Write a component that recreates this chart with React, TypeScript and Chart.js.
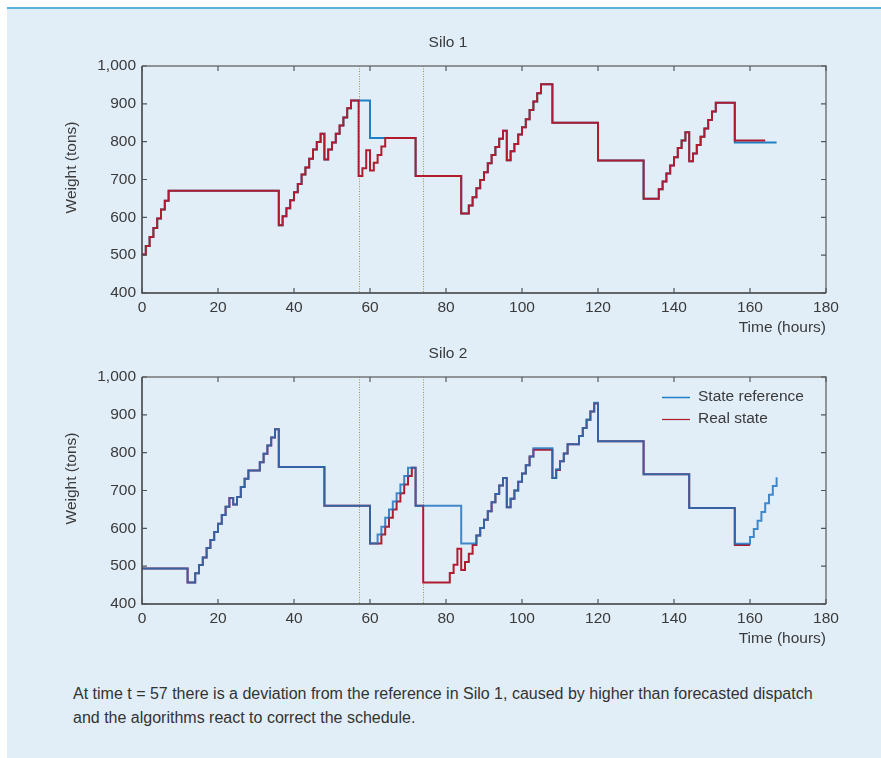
import React, { useEffect, useRef } from "react";
import { Chart, registerables } from "chart.js";

Chart.register(...registerables);

// ---------- data ----------
const silo1RefT = [0, 1, 2, 3, 4, 5, 6, 7, 36, 37, 38, 39, 40, 41, 42, 43, 44, 45, 46, 47, 48, 49, 50, 51, 52, 53, 54, 55, 60, 72, 84, 86, 87, 88, 89, 90, 91, 92, 93, 94, 95, 96, 97, 98, 99, 100, 101, 102, 103, 104, 105, 108, 120, 132, 136, 137, 138, 139, 140, 141, 142, 143, 144, 145, 146, 147, 148, 149, 150, 151, 156, 167];
const silo1RefW = [502, 524, 548, 572, 597, 621, 644, 670, 579, 603, 624, 645, 666, 688, 713, 732, 755, 779, 799, 821, 753, 779, 798, 821, 843, 864, 888, 909, 810, 709, 610, 631, 653, 677, 699, 719, 743, 765, 786, 808, 829, 751, 775, 794, 819, 838, 859, 884, 906, 928, 952, 850, 750, 649, 674, 695, 716, 737, 759, 783, 803, 825, 748, 769, 791, 813, 835, 857, 880, 903, 798, 798];

const silo1RealT = [0, 1, 2, 3, 4, 5, 6, 7, 36, 37, 38, 39, 40, 41, 42, 43, 44, 45, 46, 47, 48, 49, 50, 51, 52, 53, 54, 55, 57, 58, 59, 60, 61, 62, 63, 64, 72, 84, 86, 87, 88, 89, 90, 91, 92, 93, 94, 95, 96, 97, 98, 99, 100, 101, 102, 103, 104, 105, 108, 120, 132, 136, 137, 138, 139, 140, 141, 142, 143, 144, 145, 146, 147, 148, 149, 150, 151, 156, 164];
const silo1RealW = [502, 524, 548, 572, 597, 621, 644, 670, 579, 603, 624, 645, 666, 688, 713, 732, 755, 779, 799, 821, 753, 779, 798, 821, 843, 864, 888, 909, 709, 730, 777, 724, 744, 765, 787, 810, 709, 610, 631, 653, 677, 699, 719, 743, 765, 786, 808, 829, 751, 775, 794, 819, 838, 859, 884, 906, 928, 952, 850, 750, 649, 674, 695, 716, 737, 759, 783, 803, 825, 748, 769, 791, 813, 835, 857, 880, 903, 803, 803];

const silo2RefT = [0, 12, 14, 15, 16, 17, 18, 19, 20, 21, 22, 23, 24, 25, 26, 27, 28, 31, 32, 33, 34, 35, 36, 48, 60, 62, 63, 64, 65, 66, 67, 68, 69, 70, 72, 84, 88, 89, 90, 91, 92, 93, 94, 95, 96, 97, 98, 99, 100, 101, 102, 103, 108, 109, 110, 111, 112, 115, 116, 117, 118, 119, 120, 132, 144, 156, 160, 161, 162, 163, 164, 165, 166, 167];
const silo2RefW = [494, 457, 481, 503, 523, 548, 569, 590, 612, 635, 657, 680, 663, 683, 709, 731, 753, 775, 797, 819, 840, 862, 762, 660, 560, 584, 604, 628, 650, 671, 693, 716, 738, 760, 660, 560, 581, 601, 623, 645, 669, 691, 713, 733, 656, 678, 700, 723, 745, 767, 790, 812, 733, 756, 777, 798, 822, 844, 865, 887, 909, 932, 830, 743, 654, 559, 577, 598, 620, 643, 666, 689, 712, 735];

const silo2RealT = [0, 12, 14, 15, 16, 17, 18, 19, 20, 21, 22, 23, 24, 25, 26, 27, 28, 31, 32, 33, 34, 35, 36, 48, 60, 63, 64, 65, 66, 67, 68, 69, 70, 71, 72, 74, 81, 82, 83, 84, 85, 86, 87, 88, 89, 90, 91, 92, 93, 94, 95, 96, 97, 98, 99, 100, 101, 102, 103, 108, 109, 110, 111, 112, 115, 116, 117, 118, 119, 120, 132, 144, 156, 160];
const silo2RealW = [494, 457, 481, 503, 523, 548, 569, 590, 612, 635, 657, 680, 663, 683, 709, 731, 753, 775, 797, 819, 840, 862, 762, 660, 560, 584, 604, 628, 650, 671, 693, 716, 738, 760, 660, 457, 482, 504, 546, 490, 511, 533, 556, 581, 601, 623, 645, 669, 691, 713, 733, 656, 678, 700, 723, 745, 767, 790, 808, 733, 754, 777, 798, 822, 844, 865, 887, 909, 930, 830, 743, 654, 556, 556];

const eventTimes = [57, 74];
const xMin = 0, xMax = 180, xStep = 20;
const yMin = 400, yMax = 1000, yStep = 100;
const seriesNames = ["State reference", "Real state"];
const chartTitles = ["Silo 1", "Silo 2"];
const xTitle = "Time (hours)";
const yTitle = "Weight (tons)";

// ---------- styles ----------
const FONT = '"Liberation Sans", Arial, Helvetica, sans-serif';
const FS = 15.5;
const TEXT = "#3a3a3a";
const BLUE = "#1f7fc4";
const BLUE_TOP = "rgba(28,112,192,0.82)";
const RED = "#b01c2e";

const pts = (t: number[], w: number[]) => t.map((x, i) => ({ x, y: w[i] }));

function makePlugin(showLegend: boolean) {
  return {
    id: "frameTicks",
    beforeDatasetsDraw(chart: any) {
      const { ctx, chartArea: a, scales } = chart;
      ctx.save();
      ctx.strokeStyle = "#9a9a3c";
      ctx.lineWidth = 1;
      ctx.setLineDash([1, 1.5]);
      for (const t of eventTimes) {
        const px = Math.round(scales.x.getPixelForValue(t)) + 0.5;
        ctx.beginPath();
        ctx.moveTo(px, a.top);
        ctx.lineTo(px, a.bottom);
        ctx.stroke();
      }
      ctx.restore();
    },
    afterDatasetsDraw(chart: any) {
      const { ctx, chartArea: a, scales } = chart;
      ctx.save();
      ctx.lineWidth = 1.5;
      ctx.strokeStyle = "#777";
      ctx.beginPath();
      ctx.moveTo(a.left, a.top);
      ctx.lineTo(a.right, a.top);
      ctx.lineTo(a.right, a.bottom);
      ctx.stroke();
      ctx.strokeStyle = "#3a3a3a";
      ctx.beginPath();
      ctx.moveTo(a.left, a.top);
      ctx.lineTo(a.left, a.bottom);
      ctx.lineTo(a.right, a.bottom);
      ctx.stroke();
      ctx.lineWidth = 1.2;
      ctx.strokeStyle = "#555";
      const L = 5;
      for (let v = xMin; v <= xMax; v += xStep) {
        const px = scales.x.getPixelForValue(v);
        ctx.beginPath();
        ctx.moveTo(px, a.bottom);
        ctx.lineTo(px, a.bottom - L);
        ctx.moveTo(px, a.top);
        ctx.lineTo(px, a.top + L);
        ctx.stroke();
      }
      for (let v = yMin; v <= yMax; v += yStep) {
        const py = scales.y.getPixelForValue(v);
        ctx.beginPath();
        ctx.moveTo(a.left, py);
        ctx.lineTo(a.left + L, py);
        ctx.moveTo(a.right, py);
        ctx.lineTo(a.right - L, py);
        ctx.stroke();
      }
      // y-axis title
      ctx.fillStyle = TEXT;
      ctx.font = `${FS}px ${FONT}`;
      ctx.textAlign = "center";
      ctx.textBaseline = "middle";
      ctx.save();
      ctx.translate(57, (a.top + a.bottom) / 2 - 12);
      ctx.rotate(-Math.PI / 2);
      ctx.fillText(yTitle, 0, 0);
      ctx.restore();
      if (showLegend) {
        const lx = a.left + 520;
        const ly = a.top + 20;
        const gap = 22;
        const cols = [BLUE, RED];
        ctx.textBaseline = "middle";
        ctx.textAlign = "left";
        seriesNames.forEach((name, i) => {
          const y = ly + i * gap;
          ctx.strokeStyle = cols[i];
          ctx.lineWidth = i === 0 ? 1.5 : 1.2;
          ctx.beginPath();
          ctx.moveTo(lx, y + 0.5);
          ctx.lineTo(lx + 28, y + 0.5);
          ctx.stroke();
          ctx.fillStyle = TEXT;
          ctx.fillText(name, lx + 36, y);
        });
      }
      ctx.restore();
    },
  };
}

function makeConfig(idx: number): any {
  const font = { family: FONT, size: FS, weight: "normal" as const };
  const datasets =
    idx === 0
      ? [
          { label: seriesNames[1], data: pts(silo1RealT, silo1RealW), borderColor: RED, borderWidth: 2 },
          { label: seriesNames[0], data: pts(silo1RefT, silo1RefW), borderColor: BLUE, borderWidth: 2 },
        ]
      : [
          { label: seriesNames[0], data: pts(silo2RefT, silo2RefW), borderColor: BLUE_TOP, borderWidth: 2 },
          { label: seriesNames[1], data: pts(silo2RealT, silo2RealW), borderColor: RED, borderWidth: 2 },
        ];
  return {
    type: "line",
    data: {
      datasets: datasets.map((d) => ({
        ...d,
        stepped: "before",
        pointRadius: 0,
        fill: false,
        tension: 0,
        borderJoinStyle: "miter",
        borderCapStyle: "butt",
      })),
    },
    options: {
      animation: false,
      responsive: false,
      devicePixelRatio: 1,
      events: [],
      layout: { padding: { left: 55, right: 55, top: 0, bottom: 0 } },
      plugins: {
        legend: { display: false },
        tooltip: { enabled: false },
        title: {
          display: true,
          text: chartTitles[idx],
          color: TEXT,
          font,
          padding: { top: 13, bottom: 14.4 },
        },
      },
      scales: {
        x: {
          type: "linear",
          min: xMin,
          max: xMax,
          ticks: { stepSize: xStep, color: TEXT, font, padding: 5, maxRotation: 0, autoSkip: false },
          grid: { display: false, drawTicks: false, tickLength: 0 },
          border: { display: false },
          title: { display: true, text: xTitle, align: "end", color: TEXT, font, padding: { top: 0, bottom: 3 } },
          afterFit: (s: any) => {
            s.height = 47;
          },
        },
        y: {
          type: "linear",
          min: yMin,
          max: yMax,
          ticks: { stepSize: yStep, color: TEXT, font, padding: 6 },
          grid: { display: false, drawTicks: false, tickLength: 0 },
          border: { display: false },
          afterFit: (s: any) => {
            s.width = 72;
          },
        },
      },
    },
    plugins: [makePlugin(idx === 1)],
  };
}

function SiloChart({ idx, top }: { idx: number; top: number }) {
  const ref = useRef<HTMLCanvasElement | null>(null);
  useEffect(() => {
    if (!ref.current) return;
    const chart = new Chart(ref.current, makeConfig(idx));
    return () => chart.destroy();
  }, [idx]);
  return (
    <canvas
      ref={ref}
      width={866}
      height={320}
      style={{ position: "absolute", left: 15, top, width: 866, height: 320 }}
    />
  );
}

export default function App() {
  return (
    <div style={{ position: "absolute", left: 0, top: 0, width: 881, height: 758, background: "#fff", overflow: "hidden" }}>
      <div
        style={{
          position: "absolute",
          left: 7,
          top: 7,
          width: 874,
          height: 751,
          background: "#e1eef8",
          borderTop: "2px solid #5ab2d8",
          boxSizing: "border-box",
        }}
      />
      <SiloChart idx={0} top={20} />
      <SiloChart idx={1} top={331} />
      <div
        style={{
          position: "absolute",
          left: 73,
          top: 682,
          fontFamily: FONT,
          fontSize: 16,
          lineHeight: "24px",
          color: "#333",
          whiteSpace: "nowrap",
        }}
      >
        At time t = 57 there is a deviation from the reference in Silo 1, caused by higher than forecasted dispatch
        <br />
        and the algorithms react to correct the schedule.
      </div>
    </div>
  );
}
